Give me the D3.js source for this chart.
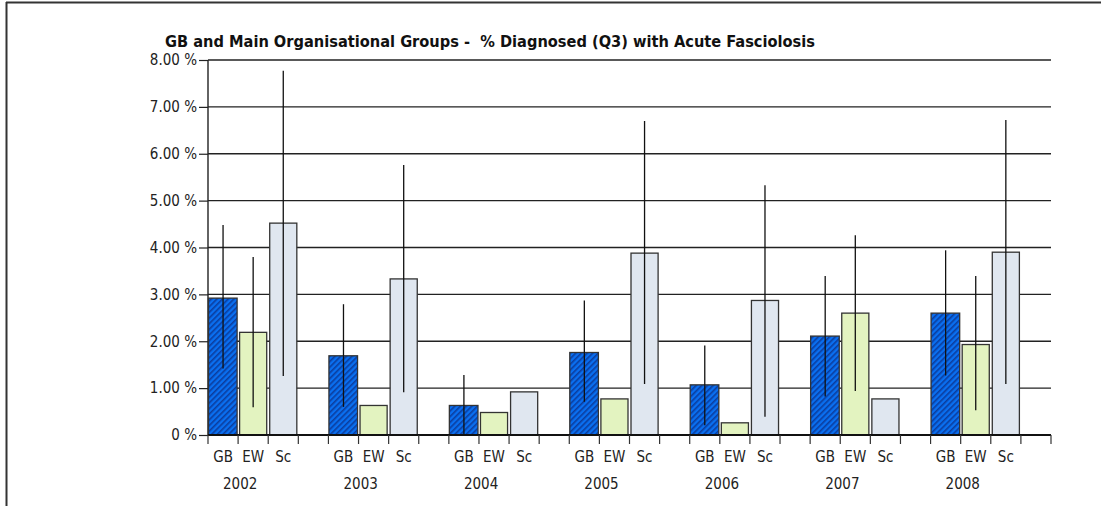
<!DOCTYPE html>
<html><head><meta charset="utf-8">
<script src="https://cdn.jsdelivr.net/npm/d3@7"></script>
<style>body{margin:0;background:#fff;}svg{display:block;}</style>
</head><body>
<svg id="c" width="1101" height="506"></svg>
<script>
const years = ["2002","2003","2004","2005","2006","2007","2008"];
const groups = ["GB","EW","Sc"];
const gbValues = [2.92,1.69,0.63,1.76,1.07,2.11,2.60];
const ewValues = [2.19,0.63,0.48,0.77,0.26,2.60,1.93];
const scValues = [4.52,3.33,0.92,3.88,2.87,0.77,3.90];
const gbLow  = [1.42,0.60,0.00,0.71,0.21,0.82,1.27];
const gbHigh = [4.48,2.79,1.28,2.87,1.91,3.39,3.94];
const ewLow  = [0.59,null,null,null,null,0.94,0.53];
const ewHigh = [3.80,null,null,null,null,4.26,3.39];
const scLow  = [1.26,0.91,null,1.09,0.39,null,1.09];
const scHigh = [7.77,5.76,null,6.70,5.33,null,6.72];
const yTicks = [0,1,2,3,4,5,6,7,8];
const title = "GB and Main Organisational Groups -  % Diagnosed (Q3) with Acute Fasciolosis";

(function(){
const svg = d3.select("#c");
const defs = svg.append("defs");
const pat = defs.append("pattern").attr("id","hatch").attr("patternUnits","userSpaceOnUse")
  .attr("width",4).attr("height",4).attr("patternTransform","rotate(45)");
pat.append("rect").attr("width",4).attr("height",4).attr("fill","#0a6ff0");
pat.append("rect").attr("width",1.6).attr("height",4).attr("fill","#0b3d9e");

// frame
svg.append("line").attr("x1",6).attr("x2",1101).attr("y1",2.5).attr("y2",2.5).attr("stroke","#333").attr("stroke-width",2);
svg.append("line").attr("x1",6.5).attr("x2",6.5).attr("y1",2).attr("y2",506).attr("stroke","#333").attr("stroke-width",2);

const mLeft = 208, mRight = 1051, mTop = 60, mBottom = 435;
const slots = [];
years.forEach(yr => { groups.forEach(g => slots.push(yr+"|"+g)); slots.push(yr+"|gap"); });
const x = d3.scaleBand().domain(slots).range([mLeft,mRight]).padding(0);
const y = d3.scaleLinear().domain([0,8]).range([mBottom,mTop]);
const font = "'DejaVu Sans Condensed','DejaVu Sans',sans-serif";

// title
svg.append("text").attr("x",165).attr("y",47).text(title)
  .attr("font-family",font).attr("font-weight","bold")
  .attr("font-size",15.5).attr("fill","#111").style("white-space","pre")
  .attr("textLength",650).attr("lengthAdjust","spacingAndGlyphs");

// gridlines
svg.append("g").selectAll("line").data(yTicks.filter(t=>t>0)).join("line")
  .attr("x1",mLeft).attr("x2",mRight).attr("y1",d=>y(d)).attr("y2",d=>y(d))
  .attr("stroke","#222").attr("stroke-width",1.4);

// y axis
const yAxis = svg.append("g").attr("transform",`translate(${mLeft},0)`)
  .call(d3.axisLeft(y).tickValues(yTicks).tickSize(9).tickPadding(2)
    .tickFormat(d => d===0 ? "0 %" : d3.format(".2f")(d)+" %"));
yAxis.select(".domain").remove();
yAxis.append("line").attr("x1",0).attr("x2",0).attr("y1",mTop).attr("y2",mBottom).attr("stroke","#222").attr("stroke-width",1.4);
yAxis.selectAll(".tick line").attr("stroke","#222").attr("stroke-width",1.2);
yAxis.selectAll("text").attr("font-family",font).attr("font-size",15).attr("fill","#222");

// bars
const series = [
  {g:"GB", vals:gbValues, lo:gbLow, hi:gbHigh, fill:"url(#hatch)"},
  {g:"EW", vals:ewValues, lo:ewLow, hi:ewHigh, fill:"#e3f3c0"},
  {g:"Sc", vals:scValues, lo:scLow, hi:scHigh, fill:"#e0e7f0"}
];
series.forEach(s => {
  const data = years.map((yr,i)=>({key:yr+"|"+s.g, v:s.vals[i], lo:s.lo[i], hi:s.hi[i]}));
  svg.append("g").selectAll("rect").data(data).join("rect")
    .attr("x",d=>x(d.key)+ (s.g==="GB"?0.5:1.5)).attr("width",x.bandwidth()-(s.g==="GB"?1.5:3))
    .attr("y",d=>y(d.v)).attr("height",d=>y(0)-y(d.v))
    .attr("fill",s.fill).attr("stroke","#333").attr("stroke-width",1.3);
  svg.append("g").selectAll("line").data(data.filter(d=>d.lo!==null)).join("line")
    .attr("x1",d=>x(d.key)+x.bandwidth()/2).attr("x2",d=>x(d.key)+x.bandwidth()/2)
    .attr("y1",d=>y(d.lo)).attr("y2",d=>y(d.hi)).attr("stroke","#111").attr("stroke-width",1.3);
});

// x axis
svg.append("line").attr("x1",mLeft).attr("x2",mRight).attr("y1",mBottom).attr("y2",mBottom).attr("stroke","#111").attr("stroke-width",2.2);
const tickXs = slots.map(s=>x(s)).concat([mRight]);
svg.append("g").selectAll("line").data(tickXs).join("line")
  .attr("x1",d=>d).attr("x2",d=>d).attr("y1",mBottom).attr("y2",mBottom+9).attr("stroke","#333").attr("stroke-width",1.2);
svg.append("g").selectAll("text").data(slots.filter(s=>!s.endsWith("gap"))).join("text")
  .attr("x",d=>x(d)+x.bandwidth()/2).attr("y",462).attr("text-anchor","middle")
  .attr("font-family",font).attr("font-size",15).attr("fill","#222")
  .text(d=>d.split("|")[1]);
svg.append("g").selectAll("text").data(years).join("text")
  .attr("x",d=>x(d+"|GB")+x.bandwidth()*1.07).attr("y",489).attr("text-anchor","middle")
  .attr("font-family",font).attr("font-size",15).attr("fill","#222")
  .text(d=>d);
})();
</script>
</body></html>
